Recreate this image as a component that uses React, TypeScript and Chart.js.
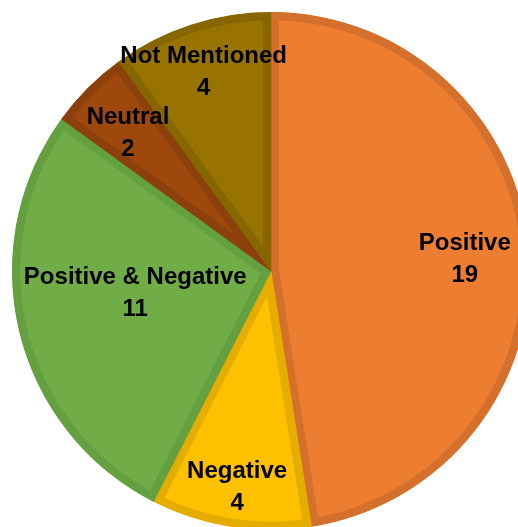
import React, { useEffect, useRef } from "react";
import { Chart, registerables } from "chart.js";

Chart.register(...registerables);

const categories = ["Positive", "Negative", "Positive & Negative", "Neutral", "Not Mentioned"];
const counts = [19, 4, 11, 2, 4];

const fillColors = ["#ED7D31", "#FFC000", "#70AD47", "#9E480E", "#997300"];
const borderColors = ["#D4702C", "#E5AD00", "#65A040", "#8C400C", "#876600"];

// label placement: fraction of radius and angle nudge (degrees)
const labelRadiusFrac = [0.75, 0.837, 0.53, 0.77, 0.815];
const labelAngleNudge = [0.6, 0, 5, -0.8, -0.6];

const labelPlugin = {
  id: "sliceLabels",
  afterDatasetsDraw(chart: any) {
    const ctx = chart.ctx;
    const meta = chart.getDatasetMeta(0);
    ctx.save();
    ctx.fillStyle = "#000";
    ctx.font = "bold 24px 'Liberation Sans', Arial, sans-serif";
    ctx.textAlign = "center";
    ctx.textBaseline = "alphabetic";
    meta.data.forEach((arc: any, i: number) => {
      const p = arc.getProps(["x", "y", "startAngle", "endAngle", "outerRadius"], true);
      const mid = (p.startAngle + p.endAngle) / 2 + (labelAngleNudge[i] * Math.PI) / 180;
      const r = p.outerRadius;
      const cx = p.x + Math.cos(mid) * r * labelRadiusFrac[i];
      const cy = p.y + Math.sin(mid) * r * labelRadiusFrac[i];
      ctx.fillText(categories[i], cx, cy - 16 + 8.5);
      ctx.fillText(String(counts[i]), cx, cy + 16 + 8.5);
    });
    ctx.restore();
  },
};

export default function App() {
  const ref = useRef<HTMLCanvasElement>(null);
  useEffect(() => {
    if (!ref.current) return;
    const chart = new Chart(ref.current, {
      type: "pie",
      data: {
        labels: categories,
        datasets: [
          {
            data: counts,
            backgroundColor: fillColors,
            borderColor: borderColors,
            borderWidth: 8,
            borderAlign: "inner",
          } as any,
        ],
      },
      options: {
        responsive: false,
        animation: false,
        layout: { padding: 0 },
        plugins: {
          legend: { display: false },
          tooltip: { enabled: false },
        },
      },
      plugins: [labelPlugin],
    });
    return () => chart.destroy();
  }, []);
  return (
    <div style={{ position: "fixed", left: 12, top: 12, width: 518, height: 518 }}>
      <canvas ref={ref} width={518} height={518} style={{ display: "block" }} />
    </div>
  );
}
